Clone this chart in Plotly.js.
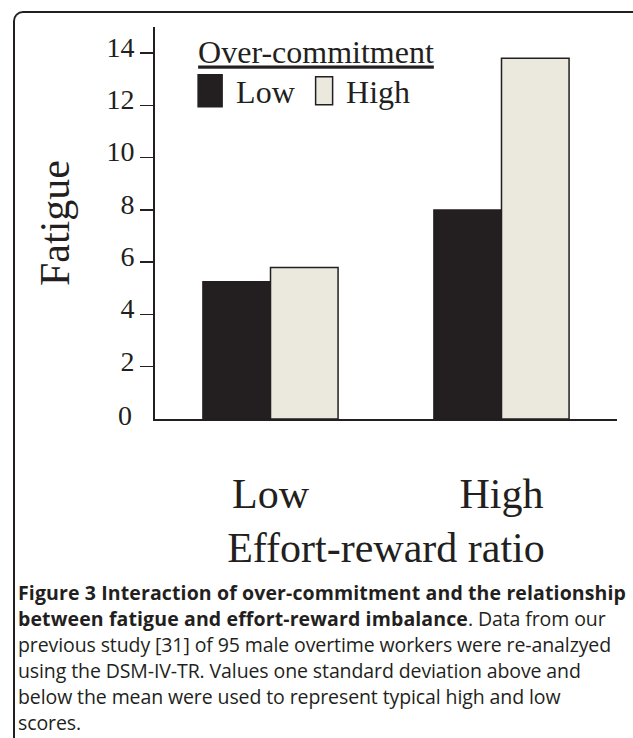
<!DOCTYPE html>
<html><head><meta charset="utf-8">
<script src="https://cdn.plot.ly/plotly-3.0.1.min.js"></script>
<style>
html,body{margin:0;padding:0;background:#fff;}
#wrap{position:relative;width:633px;height:738px;overflow:hidden;background:#fff;}
#frame{position:absolute;left:13px;top:11px;width:660px;height:780px;border-left:2px solid #231f20;border-top:2px solid #231f20;border-top-left-radius:10px;box-sizing:border-box;}
#chart{position:absolute;left:0;top:0;width:633px;height:738px;}
#caption{position:absolute;left:18px;top:580px;font-family:"Open Sans",sans-serif;font-size:19.5px;line-height:26px;color:#231f20;white-space:nowrap;letter-spacing:-0.1px;}
#caption b{letter-spacing:0.12px;}
</style></head>
<body>
<div id="wrap"><div id="frame"></div><div id="chart"></div><div id="caption"></div></div>
<script>
// ---- data ----
const categories = ['Low', 'High'];            // effort-reward ratio
const seriesNames = ['Low', 'High'];           // over-commitment
const fatigueLowOC = [5.25, 8.0];
const fatigueHighOC = [5.8, 13.8];
const yTickVals = [2, 4, 6, 8, 10, 12, 14];    // ticks with marks
const yZeroLabel = 0;                            // bottom label, no tick mark
const legendTitle = 'Over-commitment';
const xTitle = 'Effort-reward ratio';
const yTitle = 'Fatigue';
const captionBold = ['Figure 3 Interaction of over-commitment and the relationship', 'between fatigue and effort-reward imbalance'];
const captionLines = [
  '. Data from our',
  'previous study [31] of 95 male overtime workers were re-analzyed',
  'using the DSM-IV-TR. Values one standard deviation above and',
  'below the mean were used to represent typical high and low',
  'scores.'
];

// ---- caption ----
document.getElementById('caption').innerHTML =
  '<b>' + captionBold[0] + '</b><br><b>' + captionBold[1] + '</b>' + captionLines[0] + '<br>' +
  captionLines.slice(1).join('<br>');

const dark = '#231f20';
const light = '#ebe8de';
const serif = '"Liberation Serif", "Times New Roman", serif';

const traces = [
  {type: 'bar', name: seriesNames[0], x: categories, y: fatigueLowOC,
   marker: {color: dark, line: {color: dark, width: 1.5}}},
  {type: 'bar', name: seriesNames[1], x: categories, y: fatigueHighOC,
   marker: {color: light, line: {color: dark, width: 1.5}}}
];

const layout = {
  width: 633, height: 738,
  margin: {l: 155, r: 16, t: 27, b: 319},
  paper_bgcolor: 'rgba(0,0,0,0)',
  plot_bgcolor: 'rgba(0,0,0,0)',
  font: {family: serif, color: dark},
  barmode: 'group', bargap: 0.415, bargroupgap: 0,
  showlegend: true,
  legend: {
    orientation: 'h', x: 0.089, xanchor: 'left', y: 1.013, yanchor: 'top',
    bgcolor: 'rgba(0,0,0,0)',
    font: {family: serif, size: 32, color: dark},
    title: {text: '<span style="text-decoration:underline">' + legendTitle + '</span>', side: 'top',
            font: {family: serif, size: 32, color: dark}},
    traceorder: 'normal', itemwidth: 30, tracegroupgap: 0, entrywidth: 65
  },
  xaxis: {
    type: 'category', range: [-0.5, 1.5],
    showline: true, linewidth: 2, linecolor: dark,
    ticks: '', showgrid: false, zeroline: false,
    tickfont: {family: serif, size: 42, color: dark},
    ticklabelstandoff: 37,
    title: {text: xTitle, font: {family: serif, size: 42, color: dark}, standoff: 16}
  },
  yaxis: {
    range: [0, 15], showline: true, linewidth: 2, linecolor: dark,
    showgrid: false, zeroline: false,
    ticks: 'outside', ticklen: 13, tickwidth: 1.5, tickcolor: dark,
    tickmode: 'array', tickvals: yTickVals,
    tickfont: {family: serif, size: 28, color: dark},
    ticklabelstandoff: 0, ticklabelshift: -6,
    title: {text: yTitle, font: {family: serif, size: 42, color: dark}, standoff: 24}
  },
  annotations: [{
    text: String(yZeroLabel), xref: 'paper', x: 0, xanchor: 'right', xshift: -21,
    yref: 'y', y: yZeroLabel, yanchor: 'middle', yshift: 4, showarrow: false,
    font: {family: serif, size: 28, color: dark}
  }]
};

Plotly.newPlot('chart', traces, layout, {displayModeBar: false, staticPlot: true}).then(function (gd) {
  // enlarge the legend swatches to match the tall rectangles of the original key
  const shapes = ['M6,16H-18V-16H6Z', 'M6.5,14H-10.5V-14H6.5Z'];
  gd.querySelectorAll('.legend .traces').forEach(function (tr, i) {
    const p = tr.querySelector('.legendpoints path');
    if (p && shapes[i]) p.setAttribute('d', shapes[i]);
  });
});
</script>
</body></html>
